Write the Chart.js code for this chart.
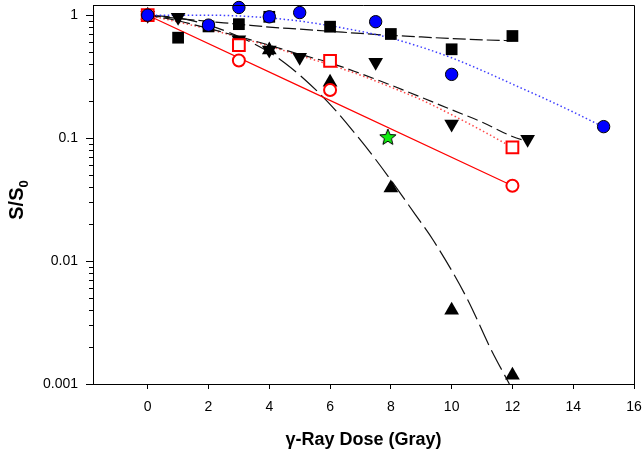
<!DOCTYPE html>
<html><head><meta charset="utf-8">
<script src="https://cdn.jsdelivr.net/npm/chart.js@4/dist/chart.umd.min.js"></script>
<style>html,body{margin:0;padding:0;background:#fff;} canvas{display:block;}</style>
</head><body>
<canvas id="c" width="644" height="454"></canvas>
<script>
// ---- tick labels / titles ----
const xTickValues = [0, 2, 4, 6, 8, 10, 12, 14, 16];
const yTickValues = [0.001, 0.01, 0.1, 1];
const yTickLabels = ['0.001', '0.01', '0.1', '1'];
const xTitle = 'γ-Ray Dose (Gray)';
const yTitleMain = 'S/S';
const yTitleSub = '0';

// ---- measured points ----
const blueDose = [0, 2, 3, 4, 5, 7.5, 10, 15];
const blueSurv = [1.0, 0.83, 1.155, 0.97, 1.05, 0.885, 0.33, 0.124];
const squareDose = [0, 1, 2, 3, 4, 6, 8, 10, 12];
const squareSurv = [1.0, 0.656, 0.81, 0.845, 0.97, 0.806, 0.703, 0.528, 0.677];
const redSquareDose = [0, 3, 6, 12];
const redSquareSurv = [1.0, 0.57, 0.425, 0.084];
const redCircleDose = [0, 3, 6, 12];
const redCircleSurv = [1.0, 0.428, 0.246, 0.041];
const triDose = [0, 4, 6, 8, 10, 12];
const triSurv = [1.0, 0.52, 0.285, 0.0393, 0.00398, 0.00118];
const invDose = [0, 1, 3, 4, 5, 7.5, 10, 12.5];
const invSurv = [1.0, 0.96, 0.63, 0.52, 0.455, 0.415, 0.13, 0.098];
const starDose = [7.9];
const starSurv = [0.102];

// ---- fitted curves ----
const fitBlueX = [0, 1, 2, 3, 4, 5, 6, 7, 8, 9, 10, 11, 12, 13, 14, 15];
const fitBlueY = [1.0, 1.0, 1.0, 0.985, 0.95, 0.895, 0.82, 0.74, 0.65, 0.55, 0.45, 0.355, 0.275, 0.213, 0.163, 0.123];
const fitSquareX = [0, 1, 2, 3, 4, 5, 6, 7, 8, 9, 10, 11, 12];
const fitSquareY = [1.0, 0.94, 0.89, 0.845, 0.80, 0.77, 0.74, 0.71, 0.685, 0.665, 0.645, 0.63, 0.62];
const fitInvX = [0, 1, 2, 3, 4, 5, 6, 7, 8, 9, 10, 11, 12, 12.5];
const fitInvY = [1.0, 0.9, 0.78, 0.67, 0.57, 0.48, 0.41, 0.335, 0.27, 0.215, 0.17, 0.135, 0.103, 0.094];
const fitRedDotX = [0, 1, 2, 3, 4, 5, 6, 7, 8, 9, 10, 11, 12];
const fitRedDotY = [1.0, 0.88, 0.77, 0.66, 0.56, 0.47, 0.395, 0.325, 0.26, 0.205, 0.155, 0.115, 0.084];
const fitRedSolidX = [0, 12];
const fitRedSolidY = [1.0, 0.041];
const fitTriX = [0, 1, 2, 3, 4, 4.5, 5.1, 5.9, 6.5, 7.5, 8.8, 9.4, 10.5, 11.3, 11.9];
const fitTriY = [1.0, 0.95, 0.83, 0.67, 0.5, 0.41, 0.31, 0.2, 0.136, 0.067, 0.024, 0.0147, 0.005, 0.0019, 0.001];

const pts = (xs, ys) => xs.map((x, i) => ({x: x, y: ys[i]}));

function makeStar() {
  const c = document.createElement('canvas');
  c.width = 20; c.height = 20;
  const g = c.getContext('2d');
  g.beginPath();
  for (let i = 0; i < 10; i++) {
    const r = i % 2 ? 3.7 : 8.5;
    const a = -Math.PI / 2 + i * Math.PI / 5;
    g.lineTo(10 + r * Math.cos(a), 10.5 + r * Math.sin(a));
  }
  g.closePath();
  g.fillStyle = '#11ee11';
  g.fill();
  g.lineWidth = 1;
  g.strokeStyle = '#000';
  g.stroke();
  return c;
}

function lineDs(xs, ys, color, dash, width) {
  return {type: 'line', data: pts(xs, ys), showLine: true, pointRadius: 0, borderColor: color,
    borderWidth: width, borderDash: dash, fill: false, cubicInterpolationMode: 'monotone', order: 20};
}
function markDs(xs, ys, style, bg, border, bw, radius, order, rot) {
  return {type: 'line', data: pts(xs, ys), showLine: false, pointStyle: style, pointBackgroundColor: bg,
    pointBorderColor: border, pointBorderWidth: bw, pointRadius: radius, pointRotation: rot || 0, order: order,
    clip: 12};
}

const FONT = '"Liberation Sans", Arial, sans-serif';
const noPad = () => ({left: 0, top: 0, right: 0, bottom: 0});

const frame = {
  id: 'frame',
  afterDraw(chart) {
    const {ctx, chartArea: a, scales} = chart;
    ctx.save();
    ctx.strokeStyle = '#000';
    ctx.lineWidth = 1;
    ctx.beginPath();
    ctx.moveTo(a.left, a.top + 0.5); ctx.lineTo(a.right + 0.5, a.top + 0.5);
    ctx.lineTo(a.right + 0.5, a.bottom);
    ctx.stroke();
    // minor log ticks
    const ys = scales.y;
    ctx.beginPath();
    [0.001, 0.01, 0.1].forEach(d => {
      for (let m = 2; m <= 9; m++) {
        const py = Math.round(ys.getPixelForValue(m * d)) + 0.5;
        ctx.moveTo(a.left - 4, py); ctx.lineTo(a.left, py);
      }
    });
    ctx.stroke();
    // y title with subscript
    ctx.fillStyle = '#000';
    ctx.translate(17, 200);
    ctx.rotate(-Math.PI / 2);
    ctx.font = 'bold 20px ' + FONT;
    const w1 = ctx.measureText(yTitleMain).width;
    ctx.font = 'bold 13px ' + FONT;
    const w2 = ctx.measureText(yTitleSub).width;
    const x0 = -(w1 + w2) / 2;
    ctx.textBaseline = 'middle';
    ctx.font = 'bold 20px ' + FONT;
    ctx.fillText(yTitleMain, x0, 0);
    ctx.font = 'bold 13px ' + FONT;
    ctx.fillText(yTitleSub, x0 + w1, 7);
    ctx.restore();
  }
};

new Chart(document.getElementById('c'), {
  type: 'line',
  data: {
    datasets: [
      lineDs(fitBlueX, fitBlueY, 'rgba(40,40,255,0.9)', [1.5, 2.5], 1.5),
      lineDs(fitSquareX, fitSquareY, '#111', [13, 4], 1.2),
      lineDs(fitInvX, fitInvY, '#111', [11, 5], 1.2),
      lineDs(fitRedDotX, fitRedDotY, 'rgba(255,40,40,0.85)', [1.5, 2.5], 1.5),
      lineDs(fitRedSolidX, fitRedSolidY, '#ff0000', [], 1.2),
      lineDs(fitTriX, fitTriY, '#111', [22, 6], 1.2),
      markDs(squareDose, squareSurv, 'rect', '#000', '#000', 0, 8.3, 7),
      markDs(triDose, triSurv, 'triangle', '#000', '#000', 0, 8.5, 6),
      markDs(invDose, invSurv, 'triangle', '#000', '#000', 0, 8.5, 5, 180),
      markDs(starDose, starSurv, makeStar(), '#11ee11', '#000', 1, 9, 4),
      markDs(redCircleDose, redCircleSurv, 'circle', '#fff', '#ff0000', 2, 6, 3),
      markDs(redSquareDose, redSquareSurv, 'rect', '#fff', '#ff0000', 2, 8.3, 2),
      markDs(blueDose, blueSurv, 'circle', '#0000ff', '#000', 1, 6.2, 1)
    ]
  },
  options: {
    responsive: false,
    animation: false,
    devicePixelRatio: 1,
    layout: {autoPadding: false, padding: {left: 0, right: 10, top: 5, bottom: 0}},
    plugins: {legend: {display: false}, tooltip: {enabled: false}},
    scales: {
      x: {
        type: 'linear', min: -1.8, max: 16,
        afterBuildTicks: s => { s.ticks = xTickValues.map(v => ({value: v})); },
        afterFit: s => { s.height = 70; s.paddingLeft = 0; s.paddingRight = 0; s.getPadding = noPad; },
        grid: {drawOnChartArea: false, tickLength: 5, color: '#000', tickColor: '#000'},
        border: {display: true, color: '#000', width: 1},
        ticks: {font: {family: FONT, size: 14}, color: '#000', padding: 10,
          maxRotation: 0, autoSkip: false, callback: v => String(v)},
        title: {display: true, text: xTitle, color: '#000', padding: {top: 0, bottom: 3},
          font: {family: FONT, size: 18, weight: 'bold'}}
      },
      y: {
        type: 'logarithmic', min: 0.001, max: 1.21,
        afterBuildTicks: s => { s.ticks = yTickValues.map(v => ({value: v})); },
        afterFit: s => { s.width = 93; s.paddingTop = 0; s.paddingBottom = 0; s.getPadding = noPad; },
        grid: {drawOnChartArea: false, tickLength: 7, color: '#000', tickColor: '#000'},
        border: {display: true, color: '#000', width: 1},
        ticks: {font: {family: FONT, size: 14}, color: '#000', padding: 8,
          autoSkip: false, callback: v => { const i = yTickValues.indexOf(v); return i >= 0 ? yTickLabels[i] : ''; }}
      }
    }
  },
  plugins: [frame]
});
</script>
</body></html>
